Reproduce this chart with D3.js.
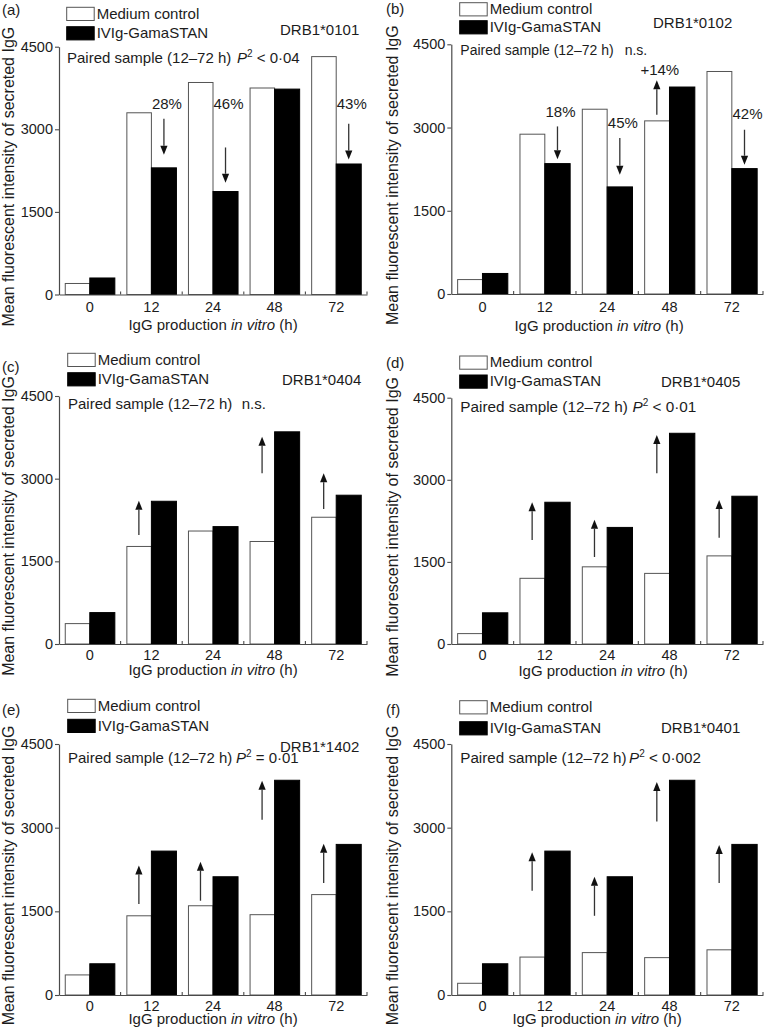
<!DOCTYPE html>
<html><head><meta charset="utf-8">
<script src="https://cdn.jsdelivr.net/npm/d3@7"></script>
<style>
body{margin:0;background:#fff}
svg{display:block}
text{font-family:"Liberation Sans",Arial,Helvetica,sans-serif;fill:#1c1c1c}
</style>
</head><body>
<svg id="chart" width="766" height="1032"></svg>
<script>
// ---------------- DATA ----------------
const categories = ["0", "12", "24", "48", "72"];
const seriesNames = ["Medium control", "IVIg-GamaSTAN"];
const yTicks = [0, 1500, 3000, 4500];
const panelTags = ["(a)", "(b)", "(c)", "(d)", "(e)", "(f)"];
const alleles = ["DRB1*0101", "DRB1*0102", "DRB1*0404", "DRB1*0405", "DRB1*1402", "DRB1*0401"];
const statPrefix = "Paired sample (12\u201372 h)";
const statTests = ["< 0\u00b704", null, null, "< 0\u00b701", "= 0\u00b701", "< 0\u00b7002"]; // null = n.s.

const mediumA = [200, 3300, 3850, 3750, 4320];
const ivigA   = [300, 2300, 1870, 3730, 2370];
const mediumB = [260, 2880, 3330, 3120, 4010];
const ivigB   = [370, 2350, 1930, 3730, 2260];
const mediumC = [370, 1770, 2050, 1860, 2300];
const ivigC   = [570, 2590, 2130, 3850, 2700];
const mediumD = [190, 1200, 1410, 1290, 1610];
const ivigD   = [570, 2590, 2130, 3850, 2700];
const mediumE = [360, 1420, 1600, 1440, 1800];
const ivigE   = [560, 2580, 2120, 3850, 2700];
const mediumF = [210, 680, 760, 670, 810];
const ivigF   = [560, 2580, 2120, 3850, 2700];

// arrows: category, series index (0 medium, 1 IVIg), from value, to value, label, label value
const arrowsA = [
  {cat: "12", s: 1, from: 3190, to: 2540, label: "28%", at: 3360},
  {cat: "24", s: 1, from: 2670, to: 2030, label: "46%", at: 3360},
  {cat: "72", s: 1, from: 3100, to: 2450, label: "43%", at: 3360}
];
const arrowsB = [
  {cat: "12", s: 1, from: 3020, to: 2430, label: "18%", at: 3190},
  {cat: "24", s: 1, from: 2810, to: 2150, label: "45%", at: 2990},
  {cat: "48", s: 0, from: 3230, to: 3850, label: "+14%", at: 3950},
  {cat: "72", s: 1, from: 2960, to: 2330, label: "42%", at: 3160}
];
const arrowsC = [
  {cat: "12", s: 0, from: 1980, to: 2600},
  {cat: "48", s: 0, from: 3100, to: 3760},
  {cat: "72", s: 0, from: 2450, to: 3100}
];
const arrowsD = [
  {cat: "12", s: 0, from: 1900, to: 2590},
  {cat: "24", s: 0, from: 1590, to: 2270},
  {cat: "48", s: 0, from: 3120, to: 3820},
  {cat: "72", s: 0, from: 1940, to: 2630}
];
const arrowsE = [
  {cat: "12", s: 0, from: 1630, to: 2320},
  {cat: "24", s: 0, from: 1690, to: 2390},
  {cat: "48", s: 0, from: 3140, to: 3840},
  {cat: "72", s: 0, from: 2010, to: 2710}
];
const arrowsF = [
  {cat: "12", s: 0, from: 1870, to: 2560},
  {cat: "24", s: 0, from: 1420, to: 2120},
  {cat: "48", s: 0, from: 3110, to: 3820},
  {cat: "72", s: 0, from: 2010, to: 2690}
];

const yTitle = "Mean fluorescent intensity of secreted IgG";

// ---------------- LAYOUT ----------------
const layout = [
  {left: 59,    right: 367, y0: 294.5, yTop: 46.7, tickPad: 7,  titleDy: 35.5, titleX: 213, statFs: 15,
   tag: [2, 14.5],   lx: 66.7,  ly1: 7.3,   ly2: 26.7,  drb: [280, 35],    stat: [67, 63],      px: 237,   yx: 14},
  {left: 451.3, right: 763, y0: 294,   yTop: 44.3, tickPad: 7.5, titleDy: 36.5, titleX: 599, statFs: 14,
   tag: [386, 14],   lx: 459.7, ly1: 2.7,   ly2: 20.7,  drb: [653, 28],    stat: [460.3, 55],   px: 624.7, yx: 398},
  {left: 59,    right: 367, y0: 644,   yTop: 396,  tickPad: 6,  titleDy: 30.5, titleX: 213, statFs: 15,
   tag: [2, 371.7],  lx: 67.7,  ly1: 353.3, ly2: 372.7, drb: [282, 385],   stat: [68, 409],     px: 241.7, yx: 14},
  {left: 451.3, right: 763, y0: 644,   yTop: 397.7, tickPad: 6, titleDy: 32, titleX: 603, statFs: 15.3,
   tag: [386, 368.3], lx: 459.7, ly1: 356,  ly2: 375,   drb: [661, 386.7], stat: [460.3, 411.7], px: 632.5, yx: 398},
  {left: 59,    right: 367, y0: 995,   yTop: 744,  tickPad: 5.5, titleDy: 28.5, titleX: 213, statFs: 15,
   tag: [2, 715],    lx: 67.7,  ly1: 699.3, ly2: 719.3, drb: [280, 751.7], stat: [68, 762.7],   px: 236,   yx: 14},
  {left: 451.3, right: 763, y0: 995,   yTop: 744,  tickPad: 6, titleDy: 29, titleX: 597, statFs: 15.2,
   tag: [386, 715],  lx: 459.7, ly1: 700.7, ly2: 721.7, drb: [661, 733.3], stat: [460.3, 762.7], px: 629,   yx: 398}
];

const mediumAll = [mediumA, mediumB, mediumC, mediumD, mediumE, mediumF];
const ivigAll = [ivigA, ivigB, ivigC, ivigD, ivigE, ivigF];
const arrowsAll = [arrowsA, arrowsB, arrowsC, arrowsD, arrowsE, arrowsF];

const FS = 15, TFS = 14.5;
const AX = "#4a4a4a";
const svg = d3.select("#chart");

layout.forEach((L, i) => {
  const g = svg.append("g");
  const x0 = d3.scaleBand().domain(categories).range([L.left, L.right]).padding(0);
  const xs = d3.scaleBand().domain([0, 1]).range([0, x0.bandwidth()]).paddingInner(0).paddingOuter(0.23);
  const y = d3.scaleLinear().domain([0, 4500]).range([L.y0, L.yTop]);

  const rows = categories.map((c, k) => ({cat: c, vals: [mediumAll[i][k], ivigAll[i][k]]}));

  // bars
  const grp = g.selectAll("g.grp").data(rows).join("g").attr("class", "grp")
    .attr("transform", d => `translate(${x0(d.cat)},0)`);
  grp.selectAll("rect").data(d => d.vals.map((v, s) => ({v, s}))).join("rect")
    .attr("x", d => xs(d.s) + (d.s === 0 ? 0.5 : 0))
    .attr("width", d => xs.bandwidth() - (d.s === 0 ? 0.5 : 0))
    .attr("y", d => y(d.v))
    .attr("height", d => y(0) - y(d.v))
    .attr("fill", d => d.s === 0 ? "#fff" : "#000")
    .attr("stroke", d => d.s === 0 ? "#555" : "#000")
    .attr("stroke-width", 1);

  // y axis
  const ya = g.append("g").attr("transform", `translate(${L.left},0)`)
    .call(d3.axisLeft(y).tickValues(yTicks).tickSize(4).tickSizeOuter(0).tickPadding(2).tickFormat(d3.format("d")));
  ya.select(".domain").attr("stroke", AX).attr("stroke-width", 1.2);
  ya.selectAll(".tick line").attr("stroke", AX).attr("stroke-width", 1.1);
  ya.selectAll(".tick text").attr("font-size", TFS).attr("font-family", null).attr("fill", "#1c1c1c");

  // x axis
  const xa = g.append("g").attr("transform", `translate(0,${L.y0})`)
    .call(d3.axisBottom(x0).tickSize(0).tickSizeOuter(0).tickPadding(L.tickPad));
  xa.select(".domain").attr("stroke", AX).attr("stroke-width", 1.2);
  xa.selectAll(".tick text").attr("font-size", TFS).attr("font-family", null).attr("fill", "#1c1c1c");
  // small boundary ticks
  g.selectAll("line.bt").data(categories).join("line").attr("class", "bt")
    .attr("x1", d => x0(d) + x0.bandwidth()).attr("x2", d => x0(d) + x0.bandwidth())
    .attr("y1", L.y0).attr("y2", L.y0 - 3)
    .attr("stroke", AX).attr("stroke-width", 1.1);

  // axis titles
  const xt = g.append("text").attr("x", L.titleX).attr("y", L.y0 + L.titleDy)
    .attr("text-anchor", "middle").attr("font-size", FS);
  xt.append("tspan").text("IgG production ");
  xt.append("tspan").attr("font-style", "italic").text("in vitro");
  xt.append("tspan").text(" (h)");

  g.append("text").attr("transform", `translate(${L.yx},${(L.y0 + L.yTop) / 2 + 6}) rotate(-90)`)
    .attr("text-anchor", "middle").attr("font-size", 16).text(yTitle);

  // panel tag
  g.append("text").attr("x", L.tag[0]).attr("y", L.tag[1]).attr("font-size", FS).text(panelTags[i]);

  // legend
  const bw = 27.5, bh = 13.2;
  [L.ly1, L.ly2].forEach((ly, s) => {
    g.append("rect").attr("x", L.lx).attr("y", ly).attr("width", bw).attr("height", bh)
      .attr("fill", s === 0 ? "#fff" : "#000").attr("stroke", s === 0 ? "#555" : "#000").attr("stroke-width", 1);
    g.append("text").attr("x", L.lx + bw + 2.5).attr("y", ly + bh - 1.8).attr("font-size", FS).text(seriesNames[s]);
  });

  // allele label
  g.append("text").attr("x", L.drb[0]).attr("y", L.drb[1]).attr("font-size", FS).text(alleles[i]);

  // stat line
  g.append("text").attr("x", L.stat[0]).attr("y", L.stat[1]).attr("font-size", L.statFs).text(statPrefix);
  const st = g.append("text").attr("x", L.px).attr("y", L.stat[1]).attr("font-size", L.statFs);
  if (statTests[i] === null) {
    st.text("n.s.");
  } else {
    st.append("tspan").attr("font-style", "italic").text("P");
    st.append("tspan").attr("font-size", 10).attr("dy", -6).text("2");
    st.append("tspan").attr("dy", 6).text(" " + statTests[i]);
  }

  // arrows
  arrowsAll[i].forEach(a => {
    const ax = x0(a.cat) + xs(a.s) + xs.bandwidth() / 2;
    const yf = y(a.from), yt = y(a.to);
    const dir = yt > yf ? 1 : -1;
    const head = 9, hw = 3.6;
    g.append("line").attr("x1", ax).attr("x2", ax).attr("y1", yf).attr("y2", yt - dir * head)
      .attr("stroke", "#333").attr("stroke-width", 1.3);
    g.append("path")
      .attr("d", `M${ax},${yt} L${ax - hw},${yt - dir * head} L${ax + hw},${yt - dir * head} Z`)
      .attr("fill", "#111");
    if (a.label) {
      g.append("text").attr("x", ax + 3).attr("y", y(a.at)).attr("text-anchor", "middle")
        .attr("font-size", FS).text(a.label);
    }
  });
});
</script>
</body></html>
